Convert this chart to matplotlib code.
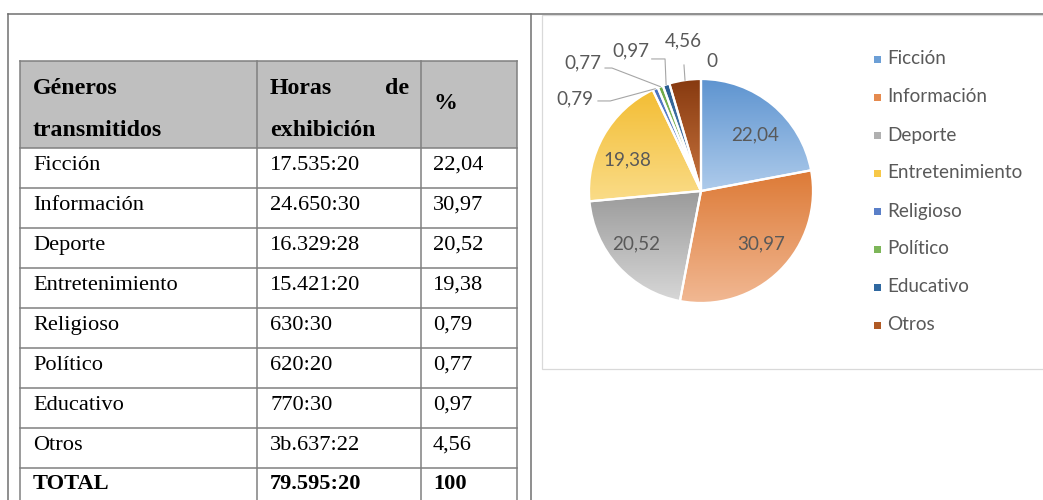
import matplotlib
matplotlib.use("Agg")
import matplotlib.pyplot as plt
import numpy as np
from matplotlib.colors import to_rgb
from matplotlib.patches import Rectangle

# ---------------- data ----------------
generos = ["Ficción", "Información", "Deporte", "Entretenimiento",
           "Religioso", "Político", "Educativo", "Otros"]
horas = ["17.535:20", "24.650:30", "16.329:28", "15.421:20",
         "630:30", "620:20", "770:30", "3b.637:22"]
porcentaje = [22.04, 30.97, 20.52, 19.38, 0.79, 0.77, 0.97, 4.56]
total_label = "TOTAL"
total_horas = "79.595:20"
total_pct = 100
extra_point = 0          # empty ninth point shown as "0" in the chart
header = [["Géneros", "transmitidos"], ["Horas", "exhibición"], ["%"]]

def fmt(v):
    if float(v).is_integer():
        return str(int(v))
    return f"{v:.2f}".replace(".", ",")

# ---------------- styles ----------------
top_colors = ["#5E94D0", "#DD7A36", "#9A9A9A", "#F3BD33",
              "#476FBE", "#6CA944", "#275C90", "#873A10"]
bottom_colors = ["#AECBEB", "#F1B893", "#D7D7D7", "#FADC88",
                 "#8FA8DB", "#A9D08E", "#6F98C4", "#C9753F"]
legend_colors = ["#6C9FD6", "#E58A4E", "#B0B0B0", "#F7C848",
                 "#5A7FC8", "#7DB659", "#2F68A0", "#B05A25"]
text_gray = "#595959"

W, H = 1043, 500
fig = plt.figure(figsize=(W / 100, H / 100), dpi=100)
base = fig.add_axes([0, 0, 1, 1])
base.set_xlim(0, W)
base.set_ylim(H, 0)
base.axis("off")

# outer frame
frame_c = "#707070"
base.plot([8, W], [14, 14], color=frame_c, lw=1.1)
base.plot([8, 8], [14, H], color=frame_c, lw=1.1)
base.plot([531, 531], [14, H], color=frame_c, lw=1.1)

# ---------------- table ----------------
col_x = [20, 257, 421, 517]
row_y = [61, 148, 188, 228, 268, 308, 348, 388, 428, 468, 515]
line_c = "#808080"
base.add_patch(Rectangle((col_x[0], row_y[0]), col_x[-1] - col_x[0],
                         row_y[1] - row_y[0], facecolor="#BFBFBF",
                         edgecolor="none", zorder=0))
for y in row_y[:-1]:
    base.plot([col_x[0], col_x[-1]], [y, y], color=line_c, lw=1.1, zorder=2)
for x in col_x:
    base.plot([x, x], [row_y[0], H], color=line_c, lw=1.1, zorder=2)

serif = "Liberation Serif"
fs = 16.1
fh = 17.2
# header
hb = dict(fontfamily=serif, fontsize=fh, fontweight="bold", va="baseline")
base.text(33, 94, header[0][0], **hb)
base.text(33, 136, header[0][1], **hb)
base.text(270, 94, header[1][0], **hb)
base.text(409, 94, "de", ha="right", **hb)
base.text(270, 136, header[1][1], **hb)
base.text(433, 109, header[2][0], **hb)

rows = list(zip(generos, horas, [fmt(p) for p in porcentaje]))
for i, (g, h, p) in enumerate(rows):
    yb = row_y[i + 1] + 22
    base.text(33, yb, g, fontfamily=serif, fontsize=fs, va="baseline")
    base.text(270, yb, h, fontfamily=serif, fontsize=fs, va="baseline")
    base.text(433, yb, p, fontfamily=serif, fontsize=fs, va="baseline")
yb = row_y[9] + 21
tb = dict(fontfamily=serif, fontsize=fs, fontweight="bold", va="baseline")
base.text(33, yb, total_label, **tb)
base.text(270, yb, total_horas, **tb)
base.text(433, yb, fmt(total_pct), **tb)

# chart area border
base.add_patch(Rectangle((542, 15), 520, 354, facecolor="none",
                         edgecolor="#D9D9D9", lw=0.9, zorder=1))

# ---------------- pie ----------------
cx, cy, R, half = 701, 191, 112, 150
pax = fig.add_axes([(cx - half) / W, (H - cy - half) / H, 2 * half / W, 2 * half / H])
pax.patch.set_alpha(0)
values = porcentaje + [extra_point]
wedges, _ = pax.pie(values, startangle=90, counterclock=False, radius=1,
                    wedgeprops=dict(edgecolor="white", linewidth=1.6))
g = np.linspace(0, 1, 256)[:, None, None]
for i, w in enumerate(wedges[:len(porcentaje)]):
    c0 = np.array(to_rgb(top_colors[i]))
    c1 = np.array(to_rgb(bottom_colors[i]))
    arr = (1 - g) * c0 + g * c1
    ext = w.get_path().get_extents()
    im = pax.imshow(arr, extent=(ext.x0, ext.x1, ext.y0, ext.y1), origin="upper",
                    aspect="auto", interpolation="bilinear", zorder=1)
    im.set_clip_path(w)
    w.set_facecolor("none")
    w.set_zorder(2)
wedges[-1].set_visible(False)

sans = "Lato"
sfs = 13.6
lab_font = dict(fontfamily=sans, fontsize=sfs, color=text_gray,
                ha="center", va="center", zorder=5)
# label positions (radius units)
label_pos = [(0.48, 0.50), (0.536, -0.473), (-0.58, -0.473), (-0.66, 0.277),
             (-1.13, 0.82), (-1.054, 1.143), (-0.625, 1.25), (-0.16, 1.339),
             (0.097, 1.152)]
for v, (x, y) in zip(values, label_pos):
    pax.text(x, y, fmt(v), **lab_font)

# leader lines for small slices: (start, elbow) in radius units
leaders = {4: [(-0.92, 0.804), (-0.81, 0.804)],
           5: [(-0.857, 1.098), (-0.795, 1.098)],
           6: [(-0.44, 1.179), (-0.321, 1.179)],
           7: [(-0.152, 1.125), (-0.152, 1.125)]}
for i, pts in leaders.items():
    w = wedges[i]
    ang = np.deg2rad((w.theta1 + w.theta2) / 2)
    end = (1.0 * np.cos(ang), 1.0 * np.sin(ang))
    xs = [pts[0][0], pts[1][0], end[0]]
    ys = [pts[0][1], pts[1][1], end[1]]
    pax.plot(xs, ys, color="#A6A6A6", lw=0.8, zorder=4, clip_on=False)

pax.set_xlim(-half / R, half / R)
pax.set_ylim(-half / R, half / R)
pax.set_aspect("auto")
pax.axis("off")

# legend
for i, (name, c) in enumerate(zip(generos, legend_colors)):
    y = 59 + 38 * i
    base.add_patch(Rectangle((874, y - 3.5), 7, 7, facecolor=c, edgecolor="none", zorder=3))
    base.text(887, y, name, fontfamily=sans, fontsize=sfs, color=text_gray,
              va="center", ha="left", zorder=3)

fig.savefig("out.png", dpi=100)
